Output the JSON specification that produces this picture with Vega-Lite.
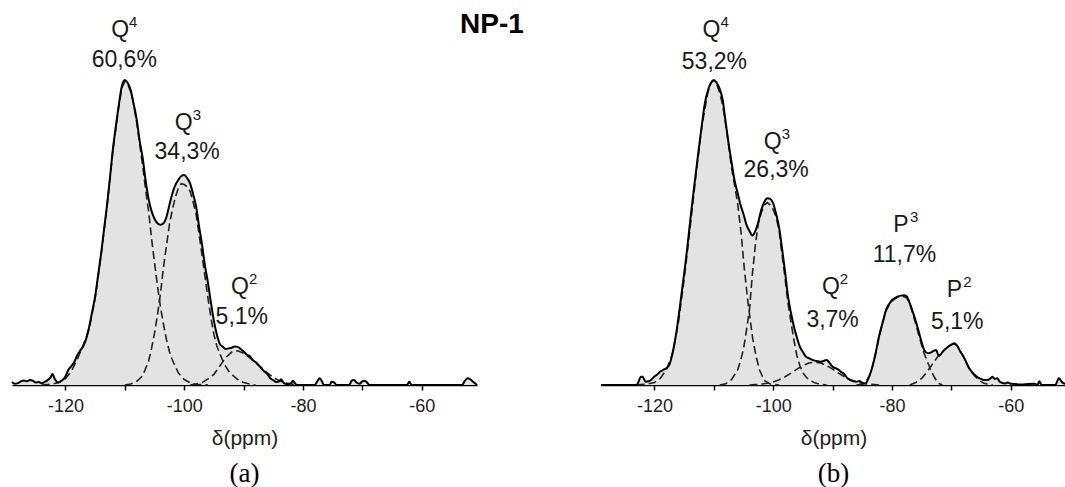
{
"$schema": "https://vega.github.io/schema/vega-lite/v6.json",
"padding": {"left": 8, "top": 11, "right": 0, "bottom": 0},
"background": "white",
"title": {"text": "NP-1", "fontSize": 28, "font": "Liberation Sans", "fontWeight": "bold", "anchor": "middle", "dx": -47, "offset": -24.5, "color": "black"},
"spacing": 116,
"config": {"view": {"stroke": null}},
"datasets": {
"sa": [
{"ppm":-129,"i":0.010},{"ppm":-128.5,"i":0.004},{"ppm":-128,"i":0.006},{"ppm":-127.5,"i":0.012},{"ppm":-127,"i":0.015},{"ppm":-126.5,"i":0.012},{"ppm":-126,"i":0.016},{"ppm":-125.5,"i":0.014},{"ppm":-125,"i":0.008},{"ppm":-124.5,"i":0.010},{"ppm":-124,"i":0.006},{"ppm":-123.5,"i":0.010},{"ppm":-123,"i":0.016},{"ppm":-122.5,"i":0.025},{"ppm":-122.2,"i":0.036},{"ppm":-121.8,"i":0.020},{"ppm":-121.3,"i":0.008},{"ppm":-121,"i":0.010},{"ppm":-120.5,"i":0.016},{"ppm":-120,"i":0.028},{"ppm":-119.5,"i":0.05},{"ppm":-119,"i":0.062},{"ppm":-118.5,"i":0.076},{"ppm":-118,"i":0.098},{"ppm":-117.5,"i":0.113},{"ppm":-117,"i":0.128},{"ppm":-116.5,"i":0.152},{"ppm":-116,"i":0.191},{"ppm":-115.5,"i":0.24},{"ppm":-115,"i":0.29},{"ppm":-114.5,"i":0.36},{"ppm":-114,"i":0.43},{"ppm":-113.5,"i":0.51},{"ppm":-113,"i":0.59},{"ppm":-112.5,"i":0.68},{"ppm":-112,"i":0.775},{"ppm":-111.5,"i":0.85},{"ppm":-111,"i":0.92},{"ppm":-110.5,"i":0.98},{"ppm":-110,"i":1.0},{"ppm":-109.5,"i":0.99},{"ppm":-109,"i":0.965},{"ppm":-108.5,"i":0.92},{"ppm":-108,"i":0.87},{"ppm":-107.5,"i":0.80},{"ppm":-107,"i":0.745},{"ppm":-106.5,"i":0.67},{"ppm":-106,"i":0.61},{"ppm":-105.5,"i":0.57},{"ppm":-105,"i":0.545},{"ppm":-104.5,"i":0.53},{"ppm":-104,"i":0.525},{"ppm":-103.5,"i":0.53},{"ppm":-103,"i":0.55},{"ppm":-102.5,"i":0.59},{"ppm":-102,"i":0.628},{"ppm":-101.5,"i":0.655},{"ppm":-101,"i":0.672},{"ppm":-100.5,"i":0.685},{"ppm":-100,"i":0.688},{"ppm":-99.5,"i":0.678},{"ppm":-99,"i":0.66},{"ppm":-98.5,"i":0.625},{"ppm":-98,"i":0.585},{"ppm":-97.5,"i":0.52},{"ppm":-97,"i":0.46},{"ppm":-96.5,"i":0.39},{"ppm":-96,"i":0.335},{"ppm":-95.5,"i":0.27},{"ppm":-95,"i":0.21},{"ppm":-94.5,"i":0.165},{"ppm":-94,"i":0.135},{"ppm":-93.5,"i":0.125},{"ppm":-93,"i":0.118},{"ppm":-92.5,"i":0.12},{"ppm":-92,"i":0.122},{"ppm":-91.5,"i":0.126},{"ppm":-91,"i":0.125},{"ppm":-90.5,"i":0.118},{"ppm":-90,"i":0.11},{"ppm":-89.5,"i":0.10},{"ppm":-89,"i":0.095},{"ppm":-88.5,"i":0.083},{"ppm":-88,"i":0.075},{"ppm":-87.5,"i":0.066},{"ppm":-87,"i":0.055},{"ppm":-86.5,"i":0.044},{"ppm":-86,"i":0.036},{"ppm":-85.5,"i":0.022},{"ppm":-85,"i":0.016},{"ppm":-84.5,"i":0.010},{"ppm":-84,"i":0.012},{"ppm":-83.7,"i":0.019},{"ppm":-83.3,"i":0.008},{"ppm":-83,"i":0.004},{"ppm":-82.5,"i":0.003},{"ppm":-82,"i":0.006},{"ppm":-81.7,"i":0.014},{"ppm":-81.3,"i":0.004},{"ppm":-81,"i":0},{"ppm":-78,"i":0},{"ppm":-77.6,"i":0.012},{"ppm":-77.2,"i":0.022},{"ppm":-76.8,"i":0.012},{"ppm":-76.5,"i":0},{"ppm":-75.5,"i":0},{"ppm":-75.2,"i":0.011},{"ppm":-74.7,"i":0.008},{"ppm":-74.4,"i":0},{"ppm":-72.2,"i":0},{"ppm":-71.8,"i":0.014},{"ppm":-71.4,"i":0.016},{"ppm":-71,"i":0.008},{"ppm":-70.5,"i":0.004},{"ppm":-70,"i":0.012},{"ppm":-69.6,"i":0.014},{"ppm":-69.2,"i":0.008},{"ppm":-68.8,"i":0},{"ppm":-62.5,"i":0},{"ppm":-62.1,"i":0.011},{"ppm":-61.7,"i":0},{"ppm":-53.2,"i":0},{"ppm":-52.8,"i":0.012},{"ppm":-52.3,"i":0.022},{"ppm":-51.8,"i":0.018},{"ppm":-51.2,"i":0.008},{"ppm":-50.7,"i":0}
],
"ca": [
{"pk":"Q4","ppm":-124,"i":0},{"pk":"Q4","ppm":-122,"i":0.004},{"pk":"Q4","ppm":-121,"i":0.009},{"pk":"Q4","ppm":-120,"i":0.021},{"pk":"Q4","ppm":-119,"i":0.045},{"pk":"Q4","ppm":-118,"i":0.085},{"pk":"Q4","ppm":-117,"i":0.13},{"pk":"Q4","ppm":-116,"i":0.185},{"pk":"Q4","ppm":-115,"i":0.285},{"pk":"Q4","ppm":-114,"i":0.425},{"pk":"Q4","ppm":-113,"i":0.585},{"pk":"Q4","ppm":-112,"i":0.77},{"pk":"Q4","ppm":-111,"i":0.915},{"pk":"Q4","ppm":-110.5,"i":0.975},{"pk":"Q4","ppm":-110,"i":0.995},{"pk":"Q4","ppm":-109.5,"i":0.985},{"pk":"Q4","ppm":-109,"i":0.962},{"pk":"Q4","ppm":-108.5,"i":0.92},{"pk":"Q4","ppm":-108,"i":0.86},{"pk":"Q4","ppm":-107.5,"i":0.79},{"pk":"Q4","ppm":-107,"i":0.72},{"pk":"Q4","ppm":-106.5,"i":0.64},{"pk":"Q4","ppm":-106,"i":0.57},{"pk":"Q4","ppm":-105.5,"i":0.48},{"pk":"Q4","ppm":-105,"i":0.40},{"pk":"Q4","ppm":-104.5,"i":0.325},{"pk":"Q4","ppm":-104,"i":0.255},{"pk":"Q4","ppm":-103.5,"i":0.2},{"pk":"Q4","ppm":-103,"i":0.15},{"pk":"Q4","ppm":-102.5,"i":0.11},{"pk":"Q4","ppm":-102,"i":0.082},{"pk":"Q4","ppm":-101,"i":0.04},{"pk":"Q4","ppm":-100,"i":0.018},{"pk":"Q4","ppm":-99,"i":0.007},{"pk":"Q4","ppm":-98,"i":0.002},{"pk":"Q4","ppm":-96,"i":0},
{"pk":"Q3","ppm":-110,"i":0},{"pk":"Q3","ppm":-109,"i":0.003},{"pk":"Q3","ppm":-108,"i":0.012},{"pk":"Q3","ppm":-107,"i":0.03},{"pk":"Q3","ppm":-106,"i":0.078},{"pk":"Q3","ppm":-105.5,"i":0.12},{"pk":"Q3","ppm":-105,"i":0.17},{"pk":"Q3","ppm":-104.5,"i":0.23},{"pk":"Q3","ppm":-104,"i":0.30},{"pk":"Q3","ppm":-103.5,"i":0.385},{"pk":"Q3","ppm":-103,"i":0.455},{"pk":"Q3","ppm":-102.5,"i":0.525},{"pk":"Q3","ppm":-102,"i":0.575},{"pk":"Q3","ppm":-101.5,"i":0.615},{"pk":"Q3","ppm":-101,"i":0.645},{"pk":"Q3","ppm":-100.5,"i":0.66},{"pk":"Q3","ppm":-100,"i":0.657},{"pk":"Q3","ppm":-99.5,"i":0.65},{"pk":"Q3","ppm":-99,"i":0.635},{"pk":"Q3","ppm":-98.5,"i":0.60},{"pk":"Q3","ppm":-98,"i":0.56},{"pk":"Q3","ppm":-97.5,"i":0.495},{"pk":"Q3","ppm":-97,"i":0.425},{"pk":"Q3","ppm":-96.5,"i":0.355},{"pk":"Q3","ppm":-96,"i":0.285},{"pk":"Q3","ppm":-95.5,"i":0.22},{"pk":"Q3","ppm":-95,"i":0.165},{"pk":"Q3","ppm":-94.5,"i":0.128},{"pk":"Q3","ppm":-94,"i":0.102},{"pk":"Q3","ppm":-93.5,"i":0.08},{"pk":"Q3","ppm":-93,"i":0.06},{"pk":"Q3","ppm":-92.5,"i":0.045},{"pk":"Q3","ppm":-92,"i":0.035},{"pk":"Q3","ppm":-91,"i":0.018},{"pk":"Q3","ppm":-90,"i":0.008},{"pk":"Q3","ppm":-89,"i":0.003},{"pk":"Q3","ppm":-88,"i":0},
{"pk":"Q2","ppm":-99,"i":0},{"pk":"Q2","ppm":-98,"i":0.003},{"pk":"Q2","ppm":-97,"i":0.008},{"pk":"Q2","ppm":-96,"i":0.02},{"pk":"Q2","ppm":-95,"i":0.035},{"pk":"Q2","ppm":-94,"i":0.062},{"pk":"Q2","ppm":-93,"i":0.09},{"pk":"Q2","ppm":-92,"i":0.108},{"pk":"Q2","ppm":-91.5,"i":0.112},{"pk":"Q2","ppm":-91,"i":0.112},{"pk":"Q2","ppm":-90,"i":0.104},{"pk":"Q2","ppm":-89,"i":0.09},{"pk":"Q2","ppm":-88,"i":0.073},{"pk":"Q2","ppm":-87,"i":0.056},{"pk":"Q2","ppm":-86,"i":0.04},{"pk":"Q2","ppm":-85,"i":0.025},{"pk":"Q2","ppm":-84,"i":0.014},{"pk":"Q2","ppm":-83,"i":0.007},{"pk":"Q2","ppm":-82,"i":0.003},{"pk":"Q2","ppm":-81,"i":0}
],
"la": [
{"ppm":-110.8,"i":1.164,"t":"Q","s":"4"},{"ppm":-110.1,"i":1.066,"t":"60,6%","s":""},{"ppm":-100.1,"i":0.858,"t":"Q","s":"3"},{"ppm":-99.5,"i":0.765,"t":"34,3%","s":""},{"ppm":-90.6,"i":0.322,"t":"Q","s":"2"},{"ppm":-90.3,"i":0.224,"t":"5,1%","s":""}
],
"sb": [
{"ppm":-129,"i":0},{"ppm":-123,"i":0},{"ppm":-122.7,"i":0.01},{"ppm":-122.3,"i":0.027},{"ppm":-122,"i":0.027},{"ppm":-121.5,"i":0.011},{"ppm":-121,"i":0.012},{"ppm":-120.5,"i":0.018},{"ppm":-120,"i":0.028},{"ppm":-119.5,"i":0.035},{"ppm":-119,"i":0.044},{"ppm":-118.5,"i":0.05},{"ppm":-118,"i":0.055},{"ppm":-117.5,"i":0.066},{"ppm":-117,"i":0.10},{"ppm":-116.5,"i":0.15},{"ppm":-116,"i":0.215},{"ppm":-115.5,"i":0.29},{"ppm":-115,"i":0.365},{"ppm":-114.5,"i":0.445},{"ppm":-114,"i":0.535},{"ppm":-113.5,"i":0.62},{"ppm":-113,"i":0.70},{"ppm":-112.5,"i":0.78},{"ppm":-112,"i":0.855},{"ppm":-111.5,"i":0.925},{"ppm":-111,"i":0.965},{"ppm":-110.5,"i":0.99},{"ppm":-110,"i":1.0},{"ppm":-109.5,"i":0.99},{"ppm":-109,"i":0.97},{"ppm":-108.5,"i":0.934},{"ppm":-108,"i":0.86},{"ppm":-107.5,"i":0.79},{"ppm":-107,"i":0.728},{"ppm":-106.5,"i":0.67},{"ppm":-106,"i":0.63},{"ppm":-105.5,"i":0.59},{"ppm":-105,"i":0.56},{"ppm":-104.5,"i":0.525},{"ppm":-104,"i":0.505},{"ppm":-103.5,"i":0.49},{"ppm":-103,"i":0.505},{"ppm":-102.5,"i":0.535},{"ppm":-102,"i":0.575},{"ppm":-101.5,"i":0.60},{"ppm":-101,"i":0.612},{"ppm":-100.5,"i":0.61},{"ppm":-100,"i":0.595},{"ppm":-99.5,"i":0.56},{"ppm":-99,"i":0.515},{"ppm":-98.5,"i":0.445},{"ppm":-98,"i":0.37},{"ppm":-97.5,"i":0.29},{"ppm":-97,"i":0.235},{"ppm":-96.5,"i":0.19},{"ppm":-96,"i":0.155},{"ppm":-95.5,"i":0.125},{"ppm":-95,"i":0.108},{"ppm":-94.5,"i":0.093},{"ppm":-94,"i":0.088},{"ppm":-93.5,"i":0.083},{"ppm":-93,"i":0.08},{"ppm":-92.5,"i":0.078},{"ppm":-92,"i":0.076},{"ppm":-91.5,"i":0.079},{"ppm":-91,"i":0.082},{"ppm":-90.5,"i":0.072},{"ppm":-90,"i":0.06},{"ppm":-89.5,"i":0.055},{"ppm":-89,"i":0.05},{"ppm":-88.5,"i":0.042},{"ppm":-88,"i":0.035},{"ppm":-87.5,"i":0.022},{"ppm":-87,"i":0.016},{"ppm":-86.5,"i":0.012},{"ppm":-86,"i":0.011},{"ppm":-85.5,"i":0.013},{"ppm":-85,"i":0.007},{"ppm":-84.5,"i":0.005},{"ppm":-84.2,"i":0.012},{"ppm":-83.8,"i":0.03},{"ppm":-83.3,"i":0.06},{"ppm":-82.8,"i":0.10},{"ppm":-82.2,"i":0.158},{"ppm":-81.5,"i":0.21},{"ppm":-81,"i":0.246},{"ppm":-80.5,"i":0.265},{"ppm":-80,"i":0.278},{"ppm":-79.5,"i":0.285},{"ppm":-79,"i":0.29},{"ppm":-78.5,"i":0.293},{"ppm":-78,"i":0.294},{"ppm":-77.5,"i":0.29},{"ppm":-77,"i":0.268},{"ppm":-76.5,"i":0.24},{"ppm":-76,"i":0.21},{"ppm":-75.5,"i":0.175},{"ppm":-75,"i":0.14},{"ppm":-74.5,"i":0.112},{"ppm":-74,"i":0.104},{"ppm":-73.5,"i":0.106},{"ppm":-73,"i":0.112},{"ppm":-72.6,"i":0.115},{"ppm":-72.1,"i":0.095},{"ppm":-71.5,"i":0.108},{"ppm":-71,"i":0.118},{"ppm":-70.5,"i":0.126},{"ppm":-70,"i":0.132},{"ppm":-69.5,"i":0.137},{"ppm":-69,"i":0.128},{"ppm":-68.5,"i":0.11},{"ppm":-68,"i":0.095},{"ppm":-67.5,"i":0.075},{"ppm":-67,"i":0.055},{"ppm":-66.5,"i":0.042},{"ppm":-66,"i":0.032},{"ppm":-65.5,"i":0.024},{"ppm":-65,"i":0.02},{"ppm":-64.5,"i":0.016},{"ppm":-64,"i":0.016},{"ppm":-63.5,"i":0.02},{"ppm":-63.1,"i":0.027},{"ppm":-62.7,"i":0.02},{"ppm":-62.3,"i":0.022},{"ppm":-61.8,"i":0.01},{"ppm":-61,"i":0.005},{"ppm":-60.5,"i":0.008},{"ppm":-60,"i":0.004},{"ppm":-58,"i":0.002},{"ppm":-56,"i":0.004},{"ppm":-55.5,"i":0},{"ppm":-55.2,"i":0.012},{"ppm":-54.8,"i":0},{"ppm":-52.5,"i":0},{"ppm":-51.9,"i":0.022},{"ppm":-51.4,"i":0.01},{"ppm":-50.7,"i":0.003}
],
"cb": [
{"pk":"Q4","ppm":-123,"i":0},{"pk":"Q4","ppm":-122,"i":0.002},{"pk":"Q4","ppm":-121,"i":0.004},{"pk":"Q4","ppm":-120,"i":0.008},{"pk":"Q4","ppm":-119,"i":0.022},{"pk":"Q4","ppm":-118,"i":0.05},{"pk":"Q4","ppm":-117,"i":0.10},{"pk":"Q4","ppm":-116,"i":0.2},{"pk":"Q4","ppm":-115,"i":0.347},{"pk":"Q4","ppm":-114,"i":0.515},{"pk":"Q4","ppm":-113,"i":0.69},{"pk":"Q4","ppm":-112,"i":0.85},{"pk":"Q4","ppm":-111,"i":0.96},{"pk":"Q4","ppm":-110.5,"i":0.99},{"pk":"Q4","ppm":-110.2,"i":0.998},{"pk":"Q4","ppm":-110,"i":0.997},{"pk":"Q4","ppm":-109.5,"i":0.985},{"pk":"Q4","ppm":-109,"i":0.958},{"pk":"Q4","ppm":-108.5,"i":0.915},{"pk":"Q4","ppm":-108,"i":0.855},{"pk":"Q4","ppm":-107.5,"i":0.785},{"pk":"Q4","ppm":-107,"i":0.71},{"pk":"Q4","ppm":-106.5,"i":0.655},{"pk":"Q4","ppm":-106,"i":0.596},{"pk":"Q4","ppm":-105.4,"i":0.497},{"pk":"Q4","ppm":-104.9,"i":0.388},{"pk":"Q4","ppm":-104.3,"i":0.279},{"pk":"Q4","ppm":-103.5,"i":0.158},{"pk":"Q4","ppm":-102.9,"i":0.095},{"pk":"Q4","ppm":-102.3,"i":0.049},{"pk":"Q4","ppm":-101.5,"i":0.015},{"pk":"Q4","ppm":-100.5,"i":0.003},{"pk":"Q4","ppm":-99,"i":0},
{"pk":"Q3","ppm":-109,"i":0},{"pk":"Q3","ppm":-108,"i":0.004},{"pk":"Q3","ppm":-107,"i":0.018},{"pk":"Q3","ppm":-106,"i":0.049},{"pk":"Q3","ppm":-105.5,"i":0.08},{"pk":"Q3","ppm":-105,"i":0.118},{"pk":"Q3","ppm":-104.5,"i":0.18},{"pk":"Q3","ppm":-104,"i":0.246},{"pk":"Q3","ppm":-103.5,"i":0.366},{"pk":"Q3","ppm":-103,"i":0.46},{"pk":"Q3","ppm":-102.5,"i":0.53},{"pk":"Q3","ppm":-102,"i":0.565},{"pk":"Q3","ppm":-101.5,"i":0.59},{"pk":"Q3","ppm":-101,"i":0.598},{"pk":"Q3","ppm":-100.5,"i":0.59},{"pk":"Q3","ppm":-100,"i":0.575},{"pk":"Q3","ppm":-99.5,"i":0.55},{"pk":"Q3","ppm":-99,"i":0.505},{"pk":"Q3","ppm":-98.5,"i":0.425},{"pk":"Q3","ppm":-98,"i":0.35},{"pk":"Q3","ppm":-97.5,"i":0.265},{"pk":"Q3","ppm":-97,"i":0.205},{"pk":"Q3","ppm":-96.5,"i":0.145},{"pk":"Q3","ppm":-96,"i":0.095},{"pk":"Q3","ppm":-95.5,"i":0.062},{"pk":"Q3","ppm":-95,"i":0.04},{"pk":"Q3","ppm":-94.5,"i":0.027},{"pk":"Q3","ppm":-94,"i":0.017},{"pk":"Q3","ppm":-93,"i":0.007},{"pk":"Q3","ppm":-92,"i":0.002},{"pk":"Q3","ppm":-91,"i":0},
{"pk":"Q2","ppm":-104,"i":0},{"pk":"Q2","ppm":-103,"i":0.0013},{"pk":"Q2","ppm":-102,"i":0.0028},{"pk":"Q2","ppm":-101,"i":0.0055},{"pk":"Q2","ppm":-100,"i":0.0101},{"pk":"Q2","ppm":-99,"i":0.0173},{"pk":"Q2","ppm":-98,"i":0.027},{"pk":"Q2","ppm":-97,"i":0.039},{"pk":"Q2","ppm":-96,"i":0.052},{"pk":"Q2","ppm":-95,"i":0.0637},{"pk":"Q2","ppm":-94,"i":0.072},{"pk":"Q2","ppm":-93,"i":0.075},{"pk":"Q2","ppm":-92,"i":0.072},{"pk":"Q2","ppm":-91,"i":0.0637},{"pk":"Q2","ppm":-90,"i":0.052},{"pk":"Q2","ppm":-89,"i":0.039},{"pk":"Q2","ppm":-88,"i":0.027},{"pk":"Q2","ppm":-87,"i":0.0173},{"pk":"Q2","ppm":-86,"i":0.0101},{"pk":"Q2","ppm":-85,"i":0.0055},{"pk":"Q2","ppm":-84,"i":0.0028},{"pk":"Q2","ppm":-83,"i":0.0013},{"pk":"Q2","ppm":-82,"i":0},
{"pk":"P3","ppm":-86,"i":0},{"pk":"P3","ppm":-85,"i":0.002},{"pk":"P3","ppm":-84.4,"i":0.01},{"pk":"P3","ppm":-83.8,"i":0.03},{"pk":"P3","ppm":-83.3,"i":0.06},{"pk":"P3","ppm":-82.8,"i":0.10},{"pk":"P3","ppm":-82.2,"i":0.155},{"pk":"P3","ppm":-81.5,"i":0.21},{"pk":"P3","ppm":-81,"i":0.243},{"pk":"P3","ppm":-80.5,"i":0.262},{"pk":"P3","ppm":-80,"i":0.275},{"pk":"P3","ppm":-79.5,"i":0.283},{"pk":"P3","ppm":-79,"i":0.288},{"pk":"P3","ppm":-78.5,"i":0.29},{"pk":"P3","ppm":-78,"i":0.29},{"pk":"P3","ppm":-77.5,"i":0.285},{"pk":"P3","ppm":-77,"i":0.265},{"pk":"P3","ppm":-76.5,"i":0.235},{"pk":"P3","ppm":-76,"i":0.2},{"pk":"P3","ppm":-75.5,"i":0.165},{"pk":"P3","ppm":-75,"i":0.13},{"pk":"P3","ppm":-74.6,"i":0.104},{"pk":"P3","ppm":-74.1,"i":0.08},{"pk":"P3","ppm":-73.7,"i":0.06},{"pk":"P3","ppm":-73.3,"i":0.042},{"pk":"P3","ppm":-72.9,"i":0.027},{"pk":"P3","ppm":-72.5,"i":0.014},{"pk":"P3","ppm":-72.1,"i":0.005},{"pk":"P3","ppm":-71.5,"i":0},
{"pk":"P2","ppm":-77,"i":0},{"pk":"P2","ppm":-76,"i":0.008},{"pk":"P2","ppm":-75,"i":0.022},{"pk":"P2","ppm":-74.3,"i":0.038},{"pk":"P2","ppm":-73.5,"i":0.06},{"pk":"P2","ppm":-72.3,"i":0.093},{"pk":"P2","ppm":-71.5,"i":0.11},{"pk":"P2","ppm":-71,"i":0.118},{"pk":"P2","ppm":-70.5,"i":0.126},{"pk":"P2","ppm":-70,"i":0.132},{"pk":"P2","ppm":-69.5,"i":0.135},{"pk":"P2","ppm":-69,"i":0.128},{"pk":"P2","ppm":-68.5,"i":0.11},{"pk":"P2","ppm":-68,"i":0.093},{"pk":"P2","ppm":-67.5,"i":0.073},{"pk":"P2","ppm":-67,"i":0.054},{"pk":"P2","ppm":-66.5,"i":0.04},{"pk":"P2","ppm":-66,"i":0.028},{"pk":"P2","ppm":-65.5,"i":0.018},{"pk":"P2","ppm":-65,"i":0.011},{"pk":"P2","ppm":-64.5,"i":0.006},{"pk":"P2","ppm":-64,"i":0.003},{"pk":"P2","ppm":-63,"i":0}
],
"lb": [
{"ppm":-110.4,"i":1.164,"t":"Q","s":"4"},{"ppm":-109.9,"i":1.059,"t":"53,2%","s":""},{"ppm":-100.1,"i":0.798,"t":"Q","s":"3"},{"ppm":-99.5,"i":0.705,"t":"26,3%","s":""},{"ppm":-90.3,"i":0.322,"t":"Q","s":"2"},{"ppm":-90.0,"i":0.213,"t":"3,7%","s":""},{"ppm":-78.5,"i":0.525,"t":"P","s":"3"},{"ppm":-77.9,"i":0.426,"t":"11,7%","s":""},{"ppm":-69.5,"i":0.311,"t":"P","s":"2"},{"ppm":-69.0,"i":0.208,"t":"5,1%","s":""}
]
},
"hconcat": [
{
"width": 465, "height": 320,
"title": {"text": "(a)", "orient": "bottom", "font": "Liberation Serif", "fontSize": 27, "fontWeight": "normal", "offset": 13, "anchor": "middle", "color": "black"},
"layer": [
{"data": {"name": "sa"}, "mark": {"type": "area", "color": "#e3e3e3", "interpolate": "monotone"},
 "encoding": {
  "x": {"field": "ppm", "type": "quantitative", "scale": {"domain": [-129, -50.7], "nice": false, "zero": false},
   "axis": {"values": [-120,-110,-100,-90,-80,-70,-60], "labelExpr": "datum.value % 20 === 0 ? '' + datum.value : ''", "title": "δ(ppm)", "grid": false, "domainColor": "black", "domainWidth": 1.5, "tickColor": "black", "tickWidth": 1.5, "tickSize": 5, "labelFont": "Liberation Sans", "labelFontSize": 18, "labelColor": "#222", "labelPadding": 7, "labelOverlap": false, "titleFont": "Liberation Sans", "titleFontSize": 21, "titleFontWeight": "normal", "titleColor": "#222", "titlePadding": 12}},
  "y": {"field": "i", "type": "quantitative", "scale": {"domain": [0, 1.049], "nice": false}, "axis": null}}},
{"data": {"name": "ca"}, "mark": {"type": "line", "color": "#222", "strokeWidth": 1.6, "strokeDash": [8, 4]},
 "encoding": {"x": {"field": "ppm", "type": "quantitative"}, "y": {"field": "i", "type": "quantitative"}, "detail": {"field": "pk"}}},
{"data": {"name": "sa"}, "mark": {"type": "line", "color": "black", "strokeWidth": 2, "interpolate": "monotone"},
 "encoding": {"x": {"field": "ppm", "type": "quantitative"}, "y": {"field": "i", "type": "quantitative"}}},
{"data": {"name": "la"}, "mark": {"type": "text", "font": "Liberation Sans", "fontSize": 23, "color": "#1a1a1a", "baseline": "middle", "align": "center"},
 "encoding": {"x": {"field": "ppm", "type": "quantitative"}, "y": {"field": "i", "type": "quantitative"}, "text": {"field": "t"}}},
{"data": {"name": "la"}, "mark": {"type": "text", "font": "Liberation Sans", "fontSize": 15, "color": "#1a1a1a", "baseline": "middle", "align": "left", "dx": 9, "dy": -8},
 "encoding": {"x": {"field": "ppm", "type": "quantitative"}, "y": {"field": "i", "type": "quantitative"}, "text": {"field": "s"}}}
]
},
{
"width": 465, "height": 320,
"title": {"text": "(b)", "orient": "bottom", "font": "Liberation Serif", "fontSize": 27, "fontWeight": "normal", "offset": 13, "anchor": "middle", "color": "black"},
"layer": [
{"data": {"name": "sb"}, "mark": {"type": "area", "color": "#e3e3e3", "interpolate": "monotone"},
 "encoding": {
  "x": {"field": "ppm", "type": "quantitative", "scale": {"domain": [-129, -50.7], "nice": false, "zero": false},
   "axis": {"values": [-120,-110,-100,-90,-80,-70,-60], "labelExpr": "datum.value % 20 === 0 ? '' + datum.value : ''", "title": "δ(ppm)", "grid": false, "domainColor": "black", "domainWidth": 1.5, "tickColor": "black", "tickWidth": 1.5, "tickSize": 5, "labelFont": "Liberation Sans", "labelFontSize": 18, "labelColor": "#222", "labelPadding": 7, "labelOverlap": false, "titleFont": "Liberation Sans", "titleFontSize": 21, "titleFontWeight": "normal", "titleColor": "#222", "titlePadding": 12}},
  "y": {"field": "i", "type": "quantitative", "scale": {"domain": [0, 1.049], "nice": false}, "axis": null}}},
{"data": {"name": "cb"}, "mark": {"type": "line", "color": "#222", "strokeWidth": 1.6, "strokeDash": [8, 4]},
 "encoding": {"x": {"field": "ppm", "type": "quantitative"}, "y": {"field": "i", "type": "quantitative"}, "detail": {"field": "pk"}}},
{"data": {"name": "sb"}, "mark": {"type": "line", "color": "black", "strokeWidth": 2, "interpolate": "monotone"},
 "encoding": {"x": {"field": "ppm", "type": "quantitative"}, "y": {"field": "i", "type": "quantitative"}}},
{"data": {"name": "lb"}, "mark": {"type": "text", "font": "Liberation Sans", "fontSize": 23, "color": "#1a1a1a", "baseline": "middle", "align": "center"},
 "encoding": {"x": {"field": "ppm", "type": "quantitative"}, "y": {"field": "i", "type": "quantitative"}, "text": {"field": "t"}}},
{"data": {"name": "lb"}, "mark": {"type": "text", "font": "Liberation Sans", "fontSize": 15, "color": "#1a1a1a", "baseline": "middle", "align": "left", "dx": 9, "dy": -8},
 "encoding": {"x": {"field": "ppm", "type": "quantitative"}, "y": {"field": "i", "type": "quantitative"}, "text": {"field": "s"}}}
]
}
]
}
